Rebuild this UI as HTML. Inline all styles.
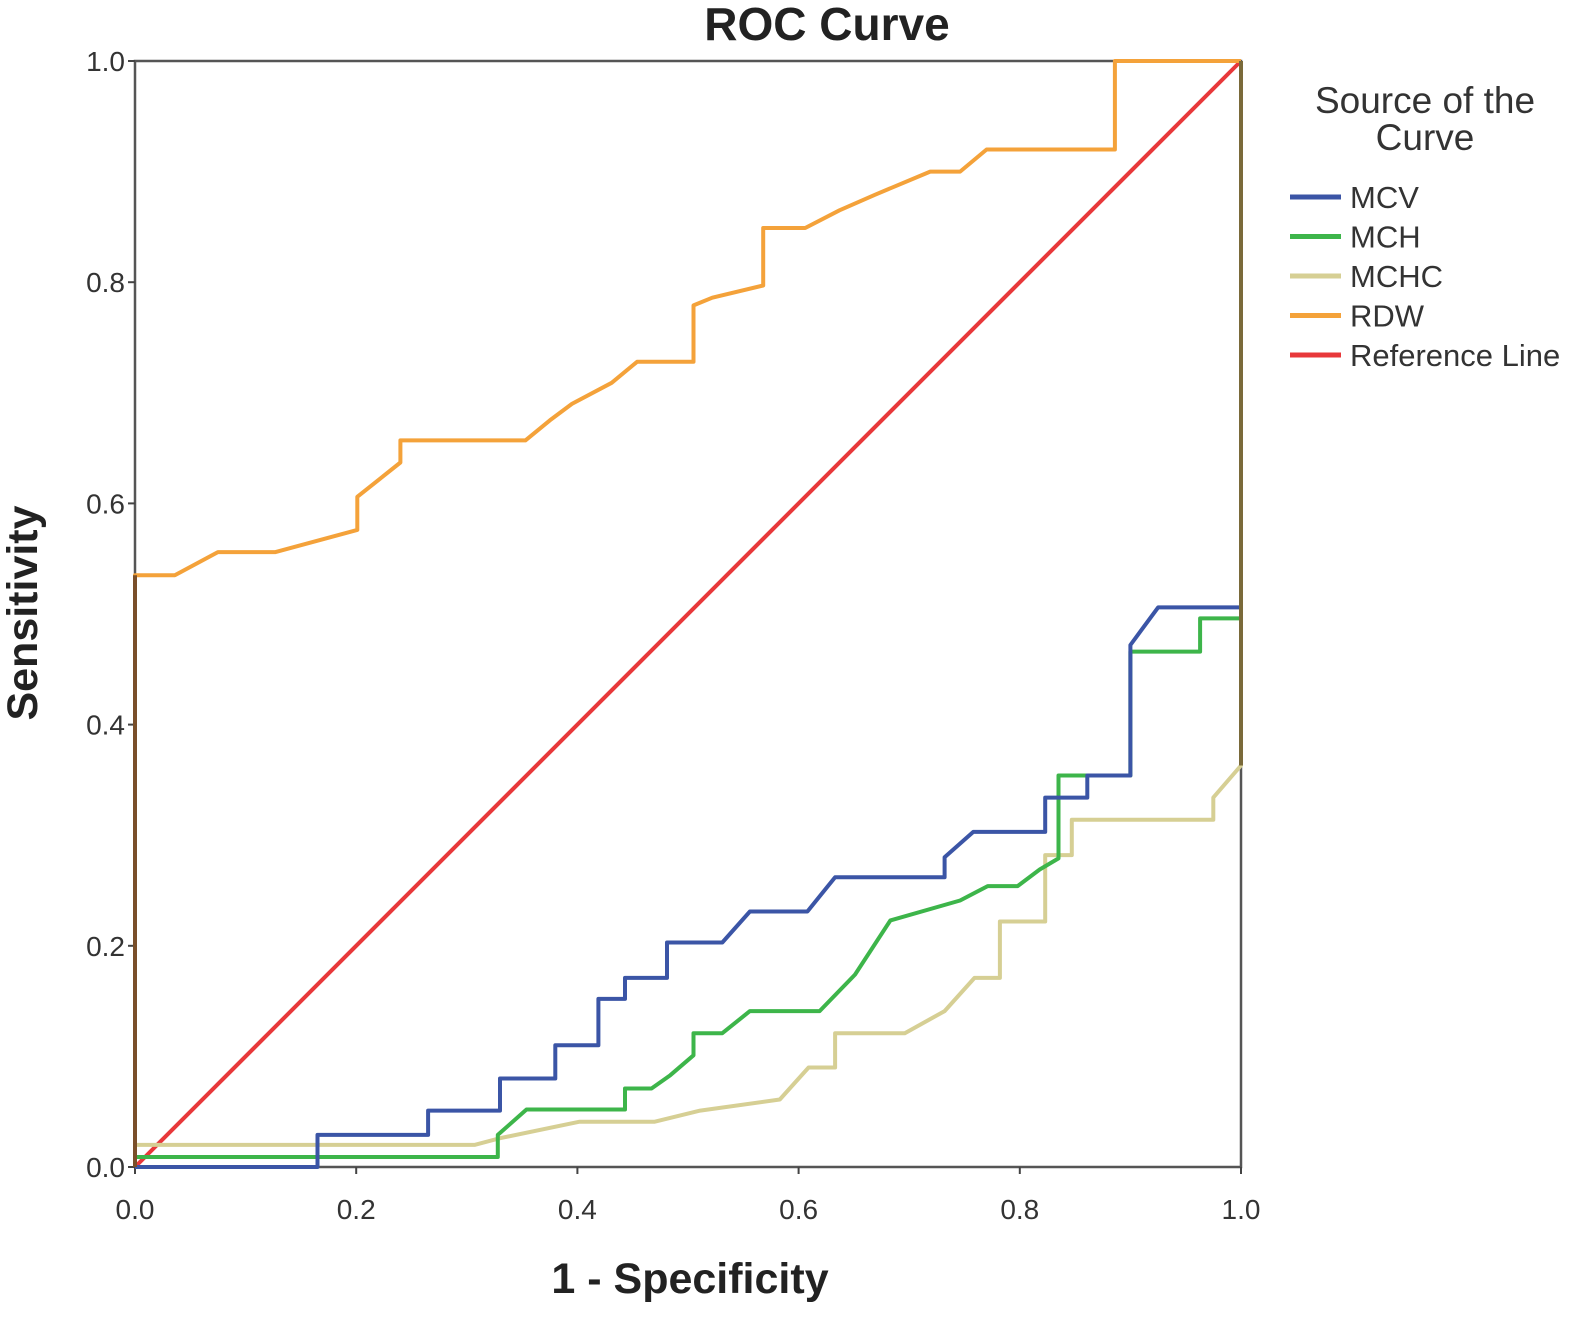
<!DOCTYPE html>
<html><head><meta charset="utf-8"><style>
html,body{margin:0;padding:0;background:#fff;}
svg{display:block;font-family:"Liberation Sans",sans-serif;}
</style></head><body>
<svg id="chart" width="1583" height="1319" viewBox="0 0 1583 1319" xmlns="http://www.w3.org/2000/svg">
<text x="827" y="40" font-size="46" font-weight="bold" text-anchor="middle" fill="#222">ROC Curve</text>
<g id="axes"></g>
<g id="series"></g>
<g id="edges"></g>
<text x="690" y="1293" font-size="43" font-weight="bold" text-anchor="middle" fill="#222">1 - Specificity</text>
<text transform="translate(37,613) rotate(-90)" font-size="43" font-weight="bold" text-anchor="middle" fill="#222">Sensitivity</text>
<g>
<text x="1425" y="113" font-size="37" text-anchor="middle" fill="#333">Source of the</text>
<text x="1425" y="150" font-size="37" text-anchor="middle" fill="#333">Curve</text>
<g id="legend-items"></g>
</g>
</svg>
<script>
const ticks = [0, 0.2, 0.4, 0.6, 0.8, 1.0];
const tickLabels = ["0.0", "0.2", "0.4", "0.6", "0.8", "1.0"];
const seriesNames = ["MCV", "MCH", "MCHC", "RDW", "Reference Line"];
const seriesColors = ["#3b55a6", "#3db54a", "#d6cf94", "#f4a23a", "#e8383a"];
const mcvX = [0,0.165,0.165,0.265,0.265,0.330,0.330,0.380,0.380,0.419,0.419,0.443,0.443,0.481,0.481,0.531,0.556,0.608,0.633,0.732,0.732,0.758,0.823,0.823,0.861,0.861,0.900,0.900,0.925,1,1];
const mcvY = [0,0,0.029,0.029,0.051,0.051,0.080,0.080,0.110,0.110,0.152,0.152,0.171,0.171,0.203,0.203,0.231,0.231,0.262,0.262,0.280,0.303,0.303,0.334,0.334,0.354,0.354,0.472,0.506,0.506,1];
const mchX = [0,0.328,0.328,0.354,0.443,0.443,0.467,0.484,0.505,0.505,0.531,0.556,0.619,0.651,0.683,0.746,0.771,0.798,0.818,0.835,0.835,0.900,0.900,0.963,0.963,1,1];
const mchY = [0.009,0.009,0.029,0.052,0.052,0.071,0.071,0.083,0.101,0.121,0.121,0.141,0.141,0.174,0.223,0.241,0.254,0.254,0.269,0.279,0.354,0.354,0.466,0.466,0.496,0.496,1];
const mchcX = [0,0.307,0.330,0.402,0.470,0.511,0.583,0.609,0.633,0.633,0.696,0.732,0.759,0.782,0.782,0.823,0.823,0.847,0.847,0.975,0.975,1,1];
const mchcY = [0.020,0.020,0.026,0.041,0.041,0.051,0.061,0.090,0.090,0.121,0.121,0.141,0.171,0.171,0.222,0.222,0.282,0.282,0.314,0.314,0.334,0.363,1];
const rdwX = [0,0,0.036,0.075,0.127,0.201,0.201,0.240,0.240,0.353,0.375,0.395,0.431,0.454,0.505,0.505,0.522,0.568,0.568,0.606,0.637,0.669,0.719,0.746,0.770,0.886,0.886,1];
const rdwY = [0,0.535,0.535,0.556,0.556,0.576,0.606,0.637,0.657,0.657,0.675,0.690,0.709,0.728,0.728,0.779,0.786,0.797,0.849,0.849,0.865,0.879,0.900,0.900,0.920,0.920,1,1];
const refX = [0, 1];
const refY = [0, 1];

const X0 = 135, X1 = 1241, Y0 = 1167, Y1 = 61;
const xs = v => X0 + v * (X1 - X0);
const ys = v => Y0 - v * (Y0 - Y1);
const NS = "http://www.w3.org/2000/svg";
function mk(tag, attrs, parent) {
  const e = document.createElementNS(NS, tag);
  for (const k in attrs) e.setAttribute(k, attrs[k]);
  parent.appendChild(e);
  return e;
}
const axes = document.getElementById('axes');
const frame = mk('rect', {x: X0, y: Y1, width: X1 - X0, height: Y0 - Y1, fill: 'none', stroke: '#555', 'stroke-width': 2.5}, axes);


ticks.forEach((t, i) => {
  const yt = mk('line', {x1: X0 - 7, x2: X0, y1: ys(t), y2: ys(t), stroke: '#444', 'stroke-width': 2}, axes);
  
  
  const yl = mk('text', {x: X0 - 10, y: ys(t) + 10, 'font-size': 28, 'text-anchor': 'end', fill: '#333'}, axes);
  yl.textContent = tickLabels[i];
  
  
  const xt = mk('line', {x1: xs(t), x2: xs(t), y1: Y0, y2: Y0 + 7, stroke: '#444', 'stroke-width': 2}, axes);
  
  
  const xl = mk('text', {x: xs(t), y: Y0 + 52, 'font-size': 28, 'text-anchor': 'middle', fill: '#333'}, axes);
  xl.textContent = tickLabels[i];
  
  
});
const ser = document.getElementById('series');
const all = [[mcvX, mcvY], [mchX, mchY], [mchcX, mchcY], [rdwX, rdwY], [refX, refY]];
const names = ['mcv-curve', 'mch-curve', 'mchc-curve', 'rdw-curve', 'reference-line'];
const order = [4, 2, 1, 0, 3];
order.forEach(i => {
  const [xa, ya] = all[i];
  const pts = xa.map((v, j) => xs(v).toFixed(1) + ',' + ys(ya[j]).toFixed(1)).join(' ');
  const pl = mk('polyline', {points: pts, fill: 'none', stroke: seriesColors[i], 'stroke-width': 4, 'stroke-linejoin': 'round'}, ser);
  
  
});
const edges = document.getElementById('edges');
const le = mk('line', {x1: X0, x2: X0, y1: ys(0.535), y2: Y0, stroke: '#7a4f2a', 'stroke-width': 4}, edges);


const re = mk('line', {x1: X1, x2: X1, y1: Y1, y2: ys(0.363), stroke: '#7a6a3a', 'stroke-width': 4}, edges);


const leg = document.getElementById('legend-items');
seriesNames.forEach((n, i) => {
  const y = 197 + i * 39.5;
  const ln = mk('line', {x1: 1290, x2: 1341, y1: y, y2: y, stroke: seriesColors[i], 'stroke-width': 5}, leg);
  
  
  const tx = mk('text', {x: 1350, y: y + 11, 'font-size': 31, fill: '#333'}, leg);
  tx.textContent = n;
  
  
});
</script>
</body></html>
